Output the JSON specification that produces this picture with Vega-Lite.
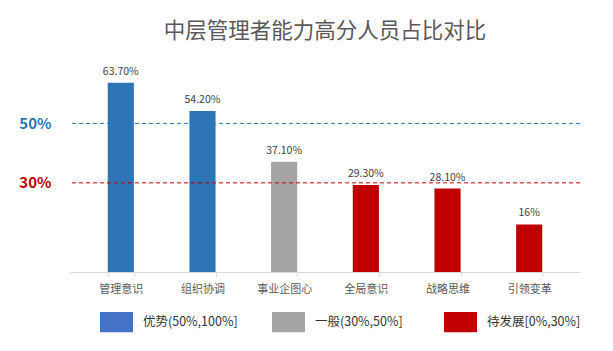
{
  "$schema": "https://vega.github.io/schema/vega-lite/v6.json",
  "width": 510,
  "height": 208,
  "autosize": "none",
  "padding": {"left": 70, "top": 64, "right": 33, "bottom": 79},
  "background": "white",
  "title": {
    "text": "中层管理者能力高分人员占比对比",
    "fontSize": 21.5,
    "fontWeight": "normal",
    "color": "#595959",
    "anchor": "middle",
    "frame": "group",
    "offset": 22
  },
  "data": {
    "values": [
      {"ability": "管理意识", "value": 63.7, "label": "63.70%", "level": "优势"},
      {"ability": "组织协调", "value": 54.2, "label": "54.20%", "level": "优势"},
      {"ability": "事业企图心", "value": 37.1, "label": "37.10%", "level": "一般"},
      {"ability": "全局意识", "value": 29.3, "label": "29.30%", "level": "待发展"},
      {"ability": "战略思维", "value": 28.1, "label": "28.10%", "level": "待发展"},
      {"ability": "引领变革", "value": 16, "label": "16%", "level": "待发展"}
    ]
  },
  "encoding": {
    "x": {
      "field": "ability",
      "type": "nominal",
      "sort": null,
      "scale": {"paddingInner": 0.68, "paddingOuter": 0.462},
      "axis": {
        "title": null,
        "labelAngle": 0,
        "labelFontSize": 11,
        "labelColor": "#595959",
        "labelPadding": 7,
        "tickSize": 4,
        "tickColor": "#D9D9D9",
        "domainColor": "#D9D9D9",
        "tickBand": "extent",
        "grid": false
      }
    }
  },
  "layer": [
    {
      "mark": {"type": "bar"},
      "encoding": {
        "y": {
          "field": "value",
          "type": "quantitative",
          "scale": {"domain": [0, 70], "nice": false},
          "axis": {
            "title": null,
            "values": [30, 50],
            "labelExpr": "datum.value + '%'",
            "labelFontSize": 15,
            "labelFontWeight": "bold",
            "labelColor": {"condition": {"test": "datum.value == 50", "value": "#2E75B6"}, "value": "#C00000"},
            "labelPadding": 19,
            "ticks": false,
            "domain": false,
            "grid": false
          }
        },
        "color": {
          "field": "level",
          "type": "nominal",
          "sort": ["优势", "一般", "待发展"],
          "scale": {"range": ["#2E75B6", "#A5A5A5", "#C00000"]},
          "legend": null
        }
      }
    },
    {
      "mark": {"type": "bar"},
      "encoding": {
        "y": {"datum": 0},
        "y2": {"datum": 0},
        "fill": {
          "field": "level",
          "type": "nominal",
          "scale": {"domain": ["优势", "一般", "待发展"], "range": ["#4472C4", "#A5A5A5", "#C00000"]},
          "legend": {
            "title": null,
            "orient": "none",
            "legendX": 30,
            "legendY": 241.5,
            "direction": "horizontal",
            "columns": 3,
            "gridAlign": "all",
            "columnPadding": 34,
            "labelOffset": 10,
            "labelFontSize": 12.5,
            "labelColor": "#333333",
            "symbolSize": 1089,
            "symbolType": "M-1,-0.62H1V0.62H-1Z",
            "symbolStrokeWidth": 0,
            "labelExpr": "datum.label == '优势' ? '优势(50%,100%]' : datum.label == '一般' ? '一般(30%,50%]' : '待发展[0%,30%]'"
          }
        }
      }
    },
    {
      "mark": {"type": "text", "fontSize": 10.5, "color": "#404040", "baseline": "alphabetic", "dy": -8},
      "encoding": {
        "y": {"field": "value", "type": "quantitative"},
        "text": {"field": "label"}
      }
    },
    {
      "data": {"values": [{"threshold": 50}]},
      "mark": {"type": "rule", "strokeDash": [4, 3], "strokeWidth": 1, "color": "#2E75B6"},
      "encoding": {
        "x": null,
        "y": {"field": "threshold", "type": "quantitative"}
      }
    },
    {
      "data": {"values": [{"threshold": 30}]},
      "mark": {"type": "rule", "strokeDash": [4, 3], "strokeWidth": 1, "color": "#C00000"},
      "encoding": {
        "x": null,
        "y": {"field": "threshold", "type": "quantitative"}
      }
    }
  ],
  "config": {
    "view": {"stroke": null},
    "font": "Noto Sans CJK SC"
  }
}
